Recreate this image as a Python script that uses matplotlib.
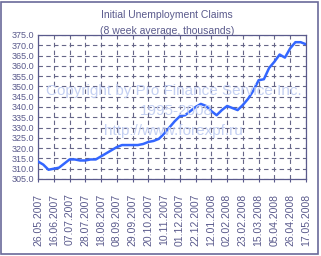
import matplotlib.pyplot as plt
import numpy as np
import datetime as dt

start = dt.date(2007, 5, 26)
dates = [start + dt.timedelta(weeks=i) for i in range(52)]
claims = [313.5, 312.0, 309.5, 310.0, 310.5, 312.5, 314.5, 314.5, 314.0, 314.0,
          314.5, 314.5, 316.0, 317.5, 319.0, 320.5, 321.5, 321.5, 321.5, 321.5,
          322.0, 323.0, 323.5, 324.5, 327.0, 330.0, 333.0, 335.5, 336.0, 338.0,
          340.0, 341.5, 340.5, 338.0, 336.0, 338.5, 340.5, 339.5, 338.5, 341.0,
          344.0, 348.0, 353.0, 353.5, 359.0, 362.0, 365.5, 364.0, 368.5, 371.5,
          371.5, 370.5]
tick_dates = dates[::3]
y_ticks = np.arange(305, 375.1, 5)

txt = '#5a5a8c'
plt.rcParams['font.family'] = ['Liberation Sans', 'DejaVu Sans']

fig = plt.figure(figsize=(3.21, 2.56), dpi=100)
fig.patch.set_facecolor('white')
fig.patches.append(plt.Rectangle((0.004, 0.006), 0.988, 0.988, transform=fig.transFigure,
                                 fill=False, edgecolor='#6a6a9a', linewidth=1.2))
ax = fig.add_axes([0.1184, 0.3008, 0.8346, 0.5625])

ax.plot(dates, claims, color='#3366ff', linewidth=1.8, zorder=3)
ax.set_xlim(dates[0], dates[-1])
ax.set_ylim(305, 375)
ax.set_yticks(y_ticks)
ax.set_yticklabels(['%.1f' % v for v in y_ticks], fontsize=6.5, color=txt)
ax.set_xticks(tick_dates)
ax.set_xticklabels([d.strftime('%d.%m.%Y') for d in tick_dates], rotation=90,
                   fontsize=7.5, color=txt)
ax.tick_params(axis='x', length=2.5, width=0.8, color=txt, pad=8)
ax.tick_params(axis='y', length=0, pad=3)
ax.grid(True, linestyle=(0, (4, 3)), color='#666688', linewidth=0.8)
for s in ax.spines.values():
    s.set_color(txt)
    s.set_linewidth(0.9)

fig.text(0.52, 0.94, 'Initial Unemployment Claims', ha='center', va='center',
         fontsize=7.5, color=txt)
fig.text(0.52, 0.88, '(8 week average, thousands)', ha='center', va='center',
         fontsize=7.5, color=txt)

wm = '#c4d0f2'
fig.text(0.54, 0.645, 'Copyright by Pro Finance Service Inc.', ha='center', va='center',
         fontsize=11, color=wm, zorder=1)
fig.text(0.55, 0.565, '1995-2008', ha='center', va='center', fontsize=11, color=wm, zorder=1)
fig.text(0.54, 0.49, 'http://www.forexpf.ru', ha='center', va='center', fontsize=11,
         color=wm, zorder=1)

plt.savefig('out.png', dpi=100)
